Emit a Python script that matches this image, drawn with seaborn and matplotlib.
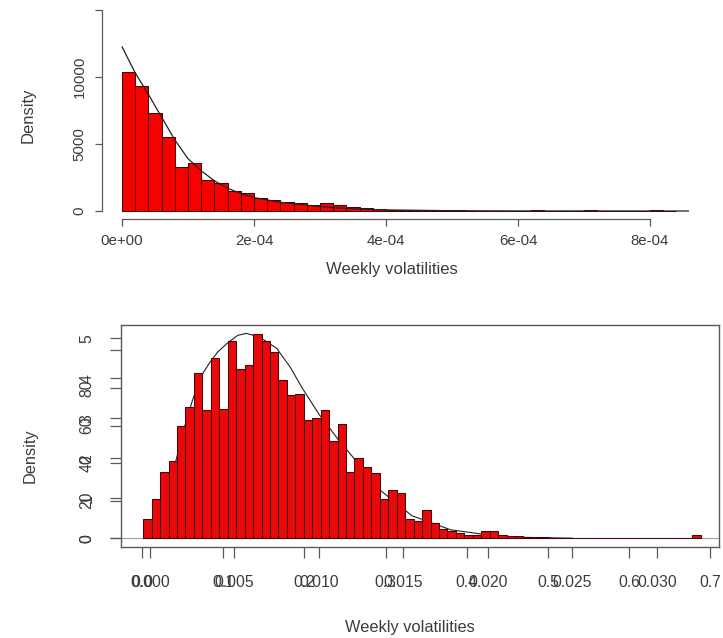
import numpy as np
import pandas as pd
import matplotlib
matplotlib.use("Agg")
import matplotlib.pyplot as plt
import seaborn as sns

# ---- top panel: weekly volatilities (variance scale), bins of 2e-05 ----
top_bin_start = 0.0
top_bin_width = 2e-5
top_density = [10390, 9325, 7290, 5500, 3300, 3560, 2310, 2110, 1515, 1320,
               950, 820, 640, 560, 470, 560, 420, 300, 200, 180,
               100, 80, 60, 50, 40, 40, 30, 30, 20, 15,
               10, 60, 0, 10, 10, 50, 0, 0, 0, 10,
               60, 30]
top_curve_x = [0, 2e-5, 4e-5, 6e-5, 8e-5, 1.0e-4, 1.2e-4, 1.4e-4, 1.6e-4, 1.8e-4,
               2.0e-4, 2.4e-4, 2.8e-4, 3.2e-4, 3.6e-4, 4.0e-4, 5.0e-4, 6.0e-4, 8.6e-4]
top_curve_y = [12260, 10300, 8700, 7000, 5300, 3900, 3000, 2250, 1700, 1300,
               1000, 650, 430, 250, 150, 80, 20, 5, 0]
top_xticks = [0, 2e-4, 4e-4, 6e-4, 8e-4]
top_xticklabels = ['0e+00', '2e-04', '4e-04', '6e-04', '8e-04']
top_yticks = [0, 5000, 10000, 15000]
top_yticklabels = ['0', '5000', '10000', '']

# ---- bottom panel: weekly volatilities, bins of 0.0005 ----
bot_bin_start = -0.0004
bot_bin_width = 0.0005
bot_density = [10, 21, 35, 41, 60, 70, 88, 68, 96, 69,
               105, 90, 92, 108.5, 105, 99, 84, 76, 77, 63,
               64, 68, 52, 61, 35, 42.5, 38, 34.5, 21, 25.5,
               24, 10, 9, 15, 8, 5, 4, 3, 2, 2,
               4, 4, 2, 1, 1, 0.5, 0.5, 0.5, 0.3, 0,
               0, 0, 0, 0, 0, 0, 0, 0, 0, 0,
               0, 0, 0, 0, 0, 1.5]
bot_curve_x = [0.0005, 0.001, 0.0015, 0.002, 0.0025, 0.003, 0.0035, 0.004, 0.0046,
               0.0052, 0.0057, 0.0065, 0.0075, 0.0083, 0.009, 0.010, 0.0111, 0.0123, 0.0137,
               0.0155, 0.0178, 0.020, 0.022, 0.025]
bot_curve_y = [8, 22, 40, 58, 73, 86, 93, 99, 104,
               108, 109, 107, 101, 91, 80, 66, 53, 40, 25,
               12, 4.5, 1.8, 0.5, 0.05]
bot_xticks = [0.000, 0.005, 0.010, 0.015, 0.020, 0.025, 0.030]
bot_xticklabels = ['0.000', '0.005', '0.010', '0.015', '0.020', '0.025', '0.030']
bot_yticks = [0, 20, 40, 60, 80, 100]
bot_yticklabels = ['0', '20', '40', '60', '80', '']

# second (overprinted) set of axis labels in the bottom panel
ghost_xticks = [0.0, 0.1, 0.2, 0.3, 0.4, 0.5, 0.6, 0.7]
ghost_xticklabels = ['0.0', '0.1', '0.2', '0.3', '0.4', '0.5', '0.6', '0.7']
ghost_yticks = [0, 1, 2, 3, 4, 5]
ghost_yticklabels = ['0', '1', '2', '3', '4', '5']

sns.set_style("white")
plt.rcParams['font.family'] = ['Liberation Sans', 'DejaVu Sans']

TXT = '#3c3c3c'
AX = '#5a5a5a'
W, H = 723, 638


def px_axes(fig, left, top, right, bottom, **kw):
    return fig.add_axes([left / W, 1 - bottom / H, (right - left) / W, (bottom - top) / H], **kw)


def draw_hist(ax, start, width, heights, face):
    edges = [start + width * i for i in range(len(heights) + 1)]
    df = pd.DataFrame({'x': [(edges[i] + edges[i + 1]) / 2 for i in range(len(heights))],
                       'w': heights})
    sns.histplot(data=df, x='x', weights='w', bins=edges, stat='count',
                 color=face, edgecolor='#4a0000', linewidth=0.75, alpha=1, ax=ax)


fig = plt.figure(figsize=(W / 100, H / 100), dpi=100)

# ---------------- top panel ----------------
ax1 = px_axes(fig, 101.7, 2, 689, 219)
draw_hist(ax1, top_bin_start, top_bin_width, top_density, '#f80000')
sns.lineplot(x=top_curve_x, y=top_curve_y, color='#222222', linewidth=0.9, ax=ax1)
ax1.set_xlim(-3.08e-5, 8.59e-4)
ax1.set_ylim(-597, 15597)
ax1.set_xticks(top_xticks)
ax1.set_xticklabels(top_xticklabels)
ax1.set_yticks(top_yticks)
ax1.set_yticklabels(top_yticklabels)
for s in ['top', 'right']:
    ax1.spines[s].set_visible(False)
ax1.spines['left'].set_bounds(0, 15000)
ax1.spines['bottom'].set_bounds(0, 8e-4)
for s in ['left', 'bottom']:
    ax1.spines[s].set_color(AX)
    ax1.spines[s].set_linewidth(0.9)
ax1.tick_params(bottom=True, left=True, direction='out', length=5, width=0.9, color=AX,
                labelsize=10.8, labelcolor=TXT, pad=6)
ax1.tick_params(axis='y', labelrotation=90)
for t in ax1.get_yticklabels():
    t.set_va('center')
ax1.set_xlabel('Weekly volatilities', fontsize=12, color=TXT)
ax1.set_ylabel('Density', fontsize=12, color=TXT)
ax1.xaxis.set_label_coords(0.494, -0.20)
ax1.yaxis.set_label_coords(-0.113, 0.48)

# ---------------- bottom panel ----------------
ax2 = px_axes(fig, 121, 325, 719, 547)
draw_hist(ax2, bot_bin_start, bot_bin_width, bot_density, '#e80a0a')
ax2.axhline(0, color='#a0a0a0', linewidth=0.8, zorder=0)
# curve sits behind the bars, only showing where it rises above them
sns.lineplot(x=bot_curve_x, y=bot_curve_y, color='#222222', linewidth=0.8, ax=ax2, zorder=0.9)
ax2.set_xlim(-0.001716, 0.033669)
ax2.set_ylim(-4.63, 113.46)
ax2.set_xticks(bot_xticks)
ax2.set_xticklabels(bot_xticklabels)
ax2.set_yticks(bot_yticks)
ax2.set_yticklabels(bot_yticklabels)
for s in ax2.spines.values():
    s.set_color(AX)
    s.set_linewidth(1.0)
ax2.tick_params(bottom=True, left=True, direction='out', length=8, width=0.9, color=AX,
                labelsize=11.3, labelcolor=TXT, pad=12)
ax2.tick_params(axis='y', labelrotation=90, pad=11)
for t in ax2.get_yticklabels():
    t.set_va('center')
ax2.set_xlabel('Weekly volatilities', fontsize=11.8, color=TXT)
ax2.set_ylabel('Density', fontsize=11.8, color=TXT)
ax2.xaxis.set_label_coords(0.483, -0.33)
ax2.yaxis.set_label_coords(-0.14, 0.41)

# overprinted axis of a second plot
ax3 = px_axes(fig, 121, 325, 719, 547, frameon=False)
ax3.patch.set_visible(False)
ax3.set_xlim(-0.02586, 0.7106)
ax3.set_ylim(-0.2175, 5.3325)
ax3.set_xticks(ghost_xticks)
ax3.set_xticklabels(ghost_xticklabels)
ax3.set_yticks(ghost_yticks)
ax3.set_yticklabels(ghost_yticklabels)
ax3.tick_params(bottom=True, left=True, direction='out', length=8, width=0.9, color=AX,
                labelsize=11.3, labelcolor=TXT, pad=12)
ax3.tick_params(axis='y', labelrotation=90, pad=11)
for t in ax3.get_yticklabels():
    t.set_va('center')

fig.savefig('out.png', dpi=100)
